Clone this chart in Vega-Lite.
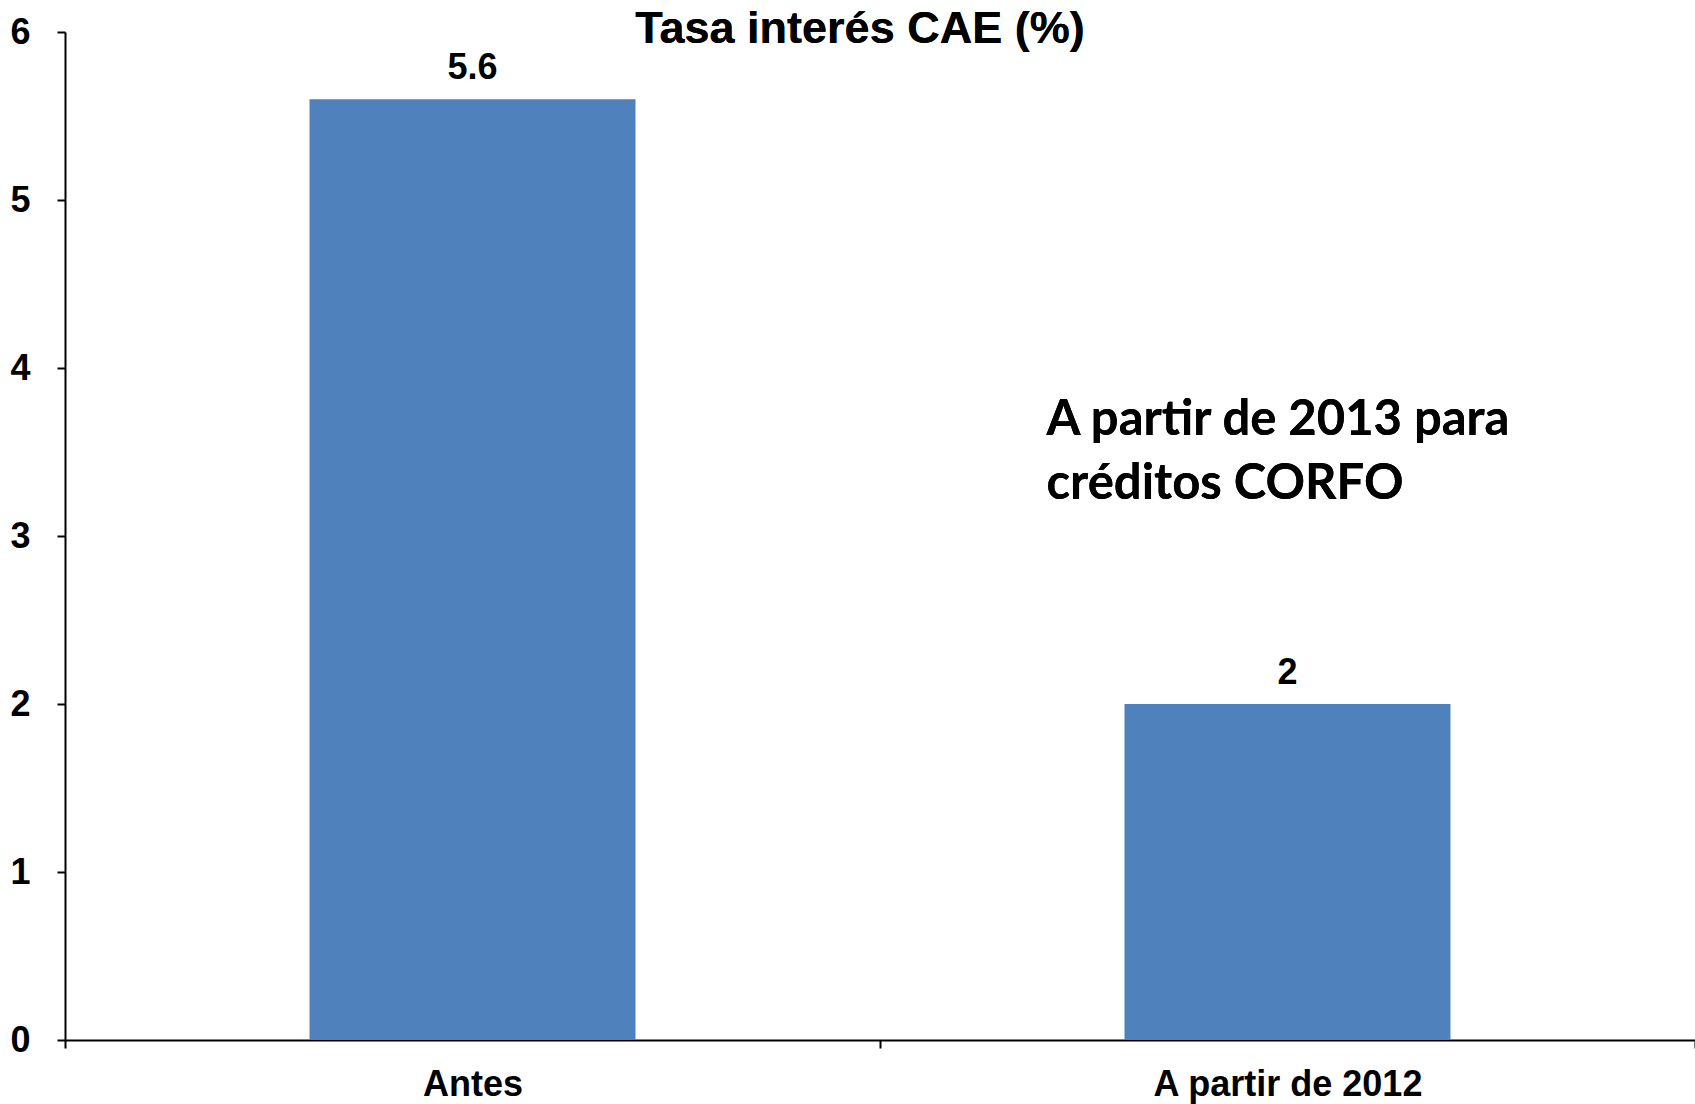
{
  "$schema": "https://vega.github.io/schema/vega-lite/v6.json",
  "width": 1630,
  "height": 1008,
  "autosize": {"type": "none"},
  "padding": {"left": 65, "top": 32, "right": 0, "bottom": 64},
  "background": "white",
  "config": {
    "view": {"stroke": null},
    "axis": {
      "labelFont": "Liberation Sans",
      "labelFontWeight": "bold",
      "labelColor": "black",
      "labelFontSize": 36,
      "labelLimit": 0,
      "domainColor": "black",
      "domainWidth": 2,
      "tickColor": "black",
      "tickWidth": 2,
      "tickSize": 8,
      "grid": false,
      "title": null
    }
  },
  "data": {
    "values": [
      {"periodo": "Antes", "tasa": 5.6},
      {"periodo": "A partir de 2012", "tasa": 2}
    ]
  },
  "layer": [
    {
      "mark": {"type": "bar", "color": "#4F81BD", "width": {"band": 0.4}},
      "encoding": {
        "x": {
          "field": "periodo",
          "type": "nominal",
          "sort": null,
          "scale": {"paddingInner": 0, "paddingOuter": 0},
          "axis": {"labelAngle": 0, "tickBand": "extent", "labelPadding": 19, "labelBaseline": "top"}
        },
        "y": {
          "field": "tasa",
          "type": "quantitative",
          "scale": {"domain": [0, 6], "nice": false},
          "axis": {"values": [0, 1, 2, 3, 4, 5, 6], "labelPadding": 27, "format": "d"}
        }
      }
    },
    {
      "mark": {
        "type": "text",
        "baseline": "alphabetic",
        "dy": -20,
        "font": "Liberation Sans",
        "fontWeight": "bold",
        "fontSize": 36,
        "color": "black"
      },
      "encoding": {
        "x": {"field": "periodo", "type": "nominal", "sort": null},
        "y": {"field": "tasa", "type": "quantitative"},
        "text": {"field": "tasa", "type": "quantitative"}
      }
    },
    {
      "mark": {
        "type": "text",
        "text": "Tasa interés CAE (%)",
        "align": "center",
        "baseline": "alphabetic",
        "xOffset": -20,
        "dy": 11,
        "font": "Liberation Sans",
        "fontWeight": "bold",
        "fontSize": 45,
        "color": "black"
      },
      "encoding": {
        "x": {"datum": "Antes", "type": "nominal", "bandPosition": 1},
        "y": {"datum": 6, "type": "quantitative"}
      }
    },
    {
      "mark": {
        "type": "text",
        "text": ["A partir de 2013 para", "créditos CORFO"],
        "align": "left",
        "baseline": "alphabetic",
        "xOffset": -241,
        "lineHeight": 64,
        "font": "Lato",
        "fontWeight": "bold",
        "fontSize": 49,
        "color": "black"
      },
      "encoding": {
        "x": {"datum": "A partir de 2012", "type": "nominal"},
        "y": {"datum": 3.6, "type": "quantitative"}
      }
    }
  ]
}
